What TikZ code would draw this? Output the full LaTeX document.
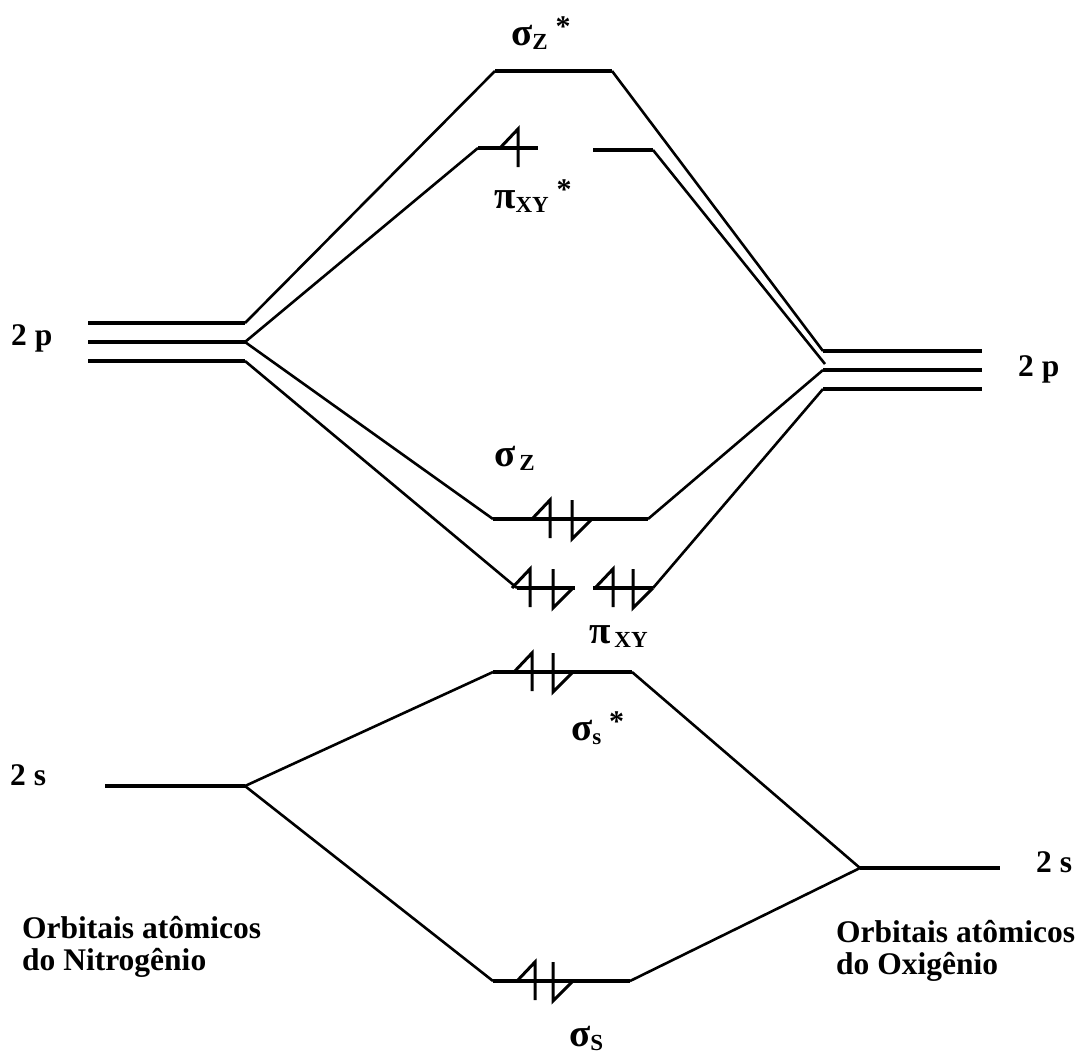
\documentclass[tikz,border=0pt]{standalone}
\usepackage{fontspec}
\setmainfont{Liberation Serif}
\newcommand\glab[2]{{\fontsize{39}{39}\selectfont #1}\raisebox{-4pt}{\fontsize{23}{23}\selectfont #2}}
\newcommand\gstar{\raisebox{9pt}{\fontsize{30}{30}\selectfont *}}
\begin{document}
\begin{tikzpicture}[x=1pt,y=-1pt,
  lvl/.style={line width=3.6pt},
  con/.style={line width=2.6pt},
  elec/.style={line width=3pt, line join=miter},
  lab/.style={font=\bfseries\fontsize{31.5}{31.5}\selectfont, inner sep=0pt, anchor=base west},
  eup/.pic={\draw[elec] (0,19) -- (0,-19) -- (-18,0);},
  edn/.pic={\draw[elec] (0,-19) -- (0,20) -- (20,0);}]
\useasboundingbox (0,0) rectangle (1078,1053);
% ---- atomic levels, left (N)
\coordinate (Lp1a) at (88,323);  \coordinate (Lp1) at (245,323);
\coordinate (Lp2a) at (88,342);  \coordinate (Lp2) at (245,342);
\coordinate (Lp3a) at (88,361);  \coordinate (Lp3) at (245,361);
\coordinate (Lsa)  at (105,786); \coordinate (Ls)  at (245,786);
% ---- atomic levels, right (O)
\coordinate (Rp1) at (823,351); \coordinate (Rp1b) at (982,351);
\coordinate (Rp2) at (823,370); \coordinate (Rp2b) at (982,370);
\coordinate (Rp3) at (823,389); \coordinate (Rp3b) at (982,389);
\coordinate (Rpx) at (825,364);
\coordinate (Rs)  at (860,868); \coordinate (Rsb) at (1000,868);
% ---- molecular levels
\coordinate (SZa) at (495,71);  \coordinate (SZb) at (612,71);    % sigma z *
\coordinate (PAa) at (478,148); \coordinate (PAm) at (538,148);   % pi xy * left
\coordinate (PAn) at (593,150); \coordinate (PAb) at (653,150);   % pi xy * right
\coordinate (Sza) at (493,519); \coordinate (Szb) at (648,519);   % sigma z
\coordinate (Pxa) at (517,588); \coordinate (Pxm) at (575,588);   % pi xy left
\coordinate (Pxn) at (593,588); \coordinate (Pxb) at (653,588);   % pi xy right
\coordinate (SSa) at (493,672); \coordinate (SSb) at (632,672);   % sigma s *
\coordinate (Ssa) at (493,981); \coordinate (Ssb) at (630,981);   % sigma s
% levels
\foreach \a/\b in {Lp1a/Lp1,Lp2a/Lp2,Lp3a/Lp3,Lsa/Ls,Rp1/Rp1b,Rp2/Rp2b,Rp3/Rp3b,Rs/Rsb,
  SZa/SZb,PAa/PAm,PAn/PAb,Sza/Szb,Pxa/Pxm,Pxn/Pxb,SSa/SSb,Ssa/Ssb}
  \draw[lvl] (\a) -- (\b);
% connectors
\draw[con] (Lp1) -- (SZa);
\draw[con] (Lp2) -- (PAa);
\draw[con] (Lp2) -- (Sza);
\draw[con] (Lp3) -- (Pxa);
\draw[con] (SZb) -- (Rp1);
\draw[con] (PAb) -- (Rpx);
\draw[con] (Szb) -- (Rp2);
\draw[con] (Pxb) -- (Rp3);
\draw[con] (Ls) -- (SSa);
\draw[con] (Ls) -- (Ssa);
\draw[con] (SSb) -- (Rs);
\draw[con] (Ssb) -- (Rs);
% electrons
\pic at (518,148) {eup};
\pic at (550,519) {eup}; \pic at (572,519) {edn};
\pic at (530,588) {eup}; \pic at (553,588) {edn};
\pic at (613,588) {eup}; \pic at (633,588) {edn};
\pic at (532,672) {eup}; \pic at (553,672) {edn};
\pic at (535,981) {eup}; \pic at (553,981) {edn};
% labels
\node[lab] (t2pl) at (11,345) {2 p};
\node[lab] (t2pr) at (1018,376) {2 p};
\node[lab] (t2sl) at (10,785) {2 s};
\node[lab] (t2sr) at (1036,872) {2 s};
\node[lab] (tSZs) at (511,45)  {\glab{σ}{Z}\ \gstar};
\node[lab] (tPXs) at (494,208) {\glab{π}{XY}\ \gstar};
\node[lab] (tSZ)  at (494,466) {\glab{σ}{\,Z}};
\node[lab] (tPX)  at (589,643) {\glab{π}{\,XY}};
\node[lab] (tSSs) at (571,740) {\glab{σ}{s}\ \gstar};
\node[lab] (tSS)  at (569,1046) {\glab{σ}{S}};
\node[lab] (tN1) at (22,938) {Orbitais atômicos};
\node[lab] (tN2) at (22,970) {do Nitrogênio};
\node[lab] (tO1) at (836,942) {Orbitais atômicos};
\node[lab] (tO2) at (836,974) {do Oxigênio};
\end{tikzpicture}
\end{document}
